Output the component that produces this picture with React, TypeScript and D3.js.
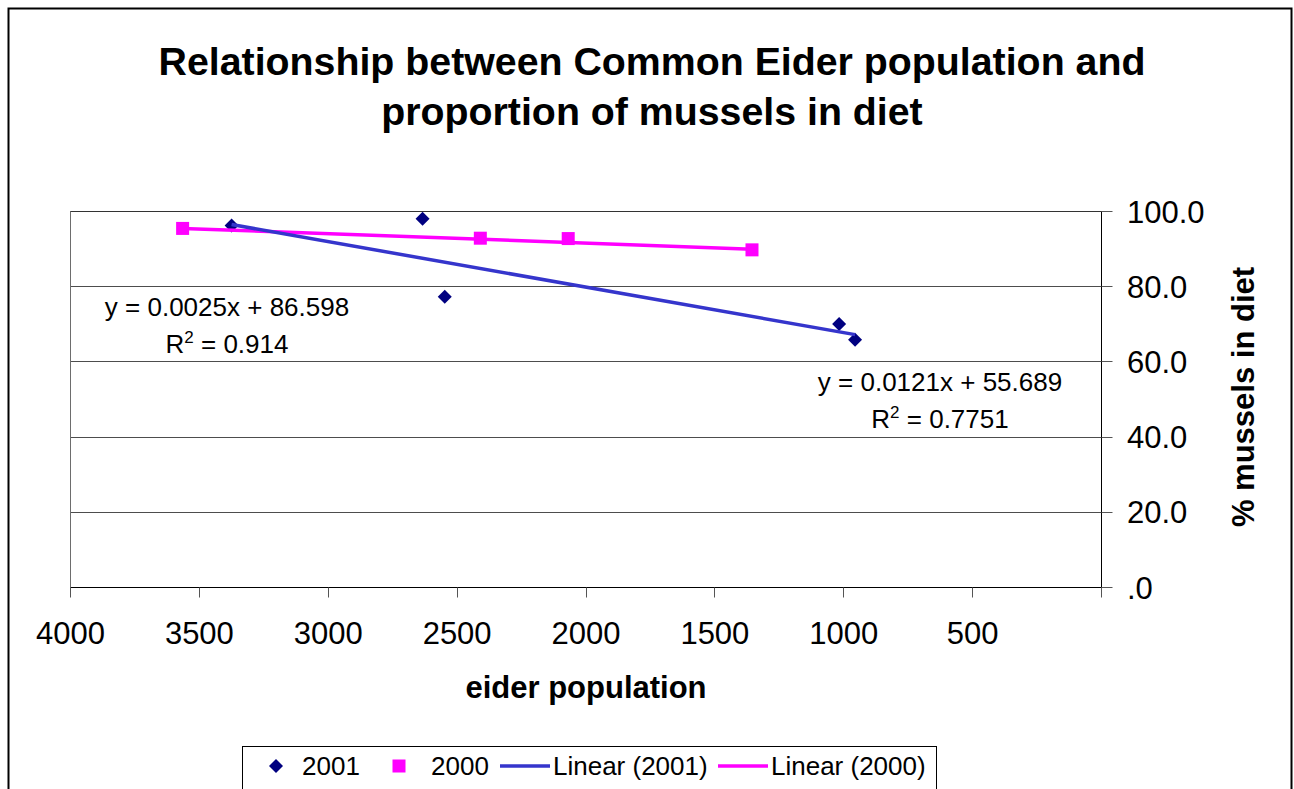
import React, { useEffect, useRef } from 'react';
import * as d3 from 'd3';

// 2001 survey: eider population vs % mussels in diet
const pop2001 = [3375, 2634, 2548, 1018, 956];
const pct2001 = [96.3, 98.1, 77.3, 70.1, 65.9];

// 2000 survey
const pop2000 = [3565, 2410, 2069, 1356];
const pct2000 = [95.5, 92.9, 92.8, 89.8];

// trendline coefficients as printed on the chart: [slope, intercept]
const fit2001 = [0.0121, 55.689];
const fit2000 = [0.0025, 86.598];
const r2_2001 = '0.7751';
const r2_2000 = '0.914';

const xTicks = [4000, 3500, 3000, 2500, 2000, 1500, 1000, 500, 0];
const yTicks = [0, 20, 40, 60, 80, 100];
const legendLabels = ['2001', '2000', 'Linear (2001)', 'Linear (2000)'];

const FONT = '"Liberation Sans", Arial, Helvetica, sans-serif';

const App: React.FC = () => {
    const ref = useRef<SVGSVGElement>(null);

    useEffect(() => {
        const svg = d3.select(ref.current);
        svg.selectAll('*').remove();

        const width = 1294;
        const height = 789;
        const plotLeft = 70.5;
        const plotRight = 1101.5;
        const plotTop = 211.5;
        const plotBottom = 587.5;

        const navy = '#000080';
        const magenta = '#FF00FF';
        const trendBlue = '#3535CC';

        const x = d3.scaleLinear().domain([4000, 0]).range([plotLeft, plotRight]);
        const y = d3.scaleLinear().domain([0, 100]).range([plotBottom, plotTop]);
        const snap = (v: number) => Math.round(v - 0.5) + 0.5;

        svg.attr('viewBox', [0, 0, width, height])
            .style('font-family', FONT);

        // chart area background + outer frame (bottom edge runs off the page)
        svg.append('rect')
            .attr('x', 0).attr('y', 0).attr('width', width).attr('height', height)
            .attr('fill', 'white');
        svg.append('rect')
            .attr('x', 8.5).attr('y', 8.5)
            .attr('width', 1283).attr('height', 820)
            .attr('fill', 'white')
            .attr('stroke', 'black')
            .attr('stroke-width', 2);

        // title
        const title = svg.append('text')
            .attr('text-anchor', 'middle')
            .attr('font-weight', 'bold')
            .attr('font-size', 39.3)
            .attr('fill', 'black');
        title.append('tspan').attr('x', 652).attr('y', 75)
            .text('Relationship between Common Eider population and');
        title.append('tspan').attr('x', 652).attr('y', 125)
            .text('proportion of mussels in diet');

        // gridlines
        svg.append('g')
            .selectAll('line')
            .data(yTicks.filter(d => d > 0))
            .join('line')
            .attr('x1', plotLeft).attr('x2', plotRight)
            .attr('y1', d => snap(y(d))).attr('y2', d => snap(y(d)))
            .attr('stroke', '#4d4d4d')
            .attr('stroke-width', 1);

        // plot left edge
        svg.append('line')
            .attr('x1', plotLeft).attr('x2', plotLeft)
            .attr('y1', plotTop).attr('y2', plotBottom)
            .attr('stroke', '#6d6d6d');

        // x axis (reversed, 4000 -> 0)
        const xAxis = svg.append('g');
        xAxis.append('line')
            .attr('x1', plotLeft).attr('x2', plotRight)
            .attr('y1', plotBottom).attr('y2', plotBottom)
            .attr('stroke', 'black');
        xAxis.selectAll('line.tick')
            .data(xTicks)
            .join('line')
            .attr('class', 'tick')
            .attr('x1', d => snap(x(d))).attr('x2', d => snap(x(d)))
            .attr('y1', plotBottom).attr('y2', plotBottom + 10)
            .attr('stroke', '#555');
        xAxis.selectAll('text')
            .data(xTicks.filter(d => d > 0))
            .join('text')
            .attr('x', d => x(d))
            .attr('y', 644)
            .attr('text-anchor', 'middle')
            .attr('font-size', 31)
            .attr('fill', 'black')
            .text(d => String(d));
        svg.append('text')
            .attr('x', (plotLeft + plotRight) / 2)
            .attr('y', 698)
            .attr('text-anchor', 'middle')
            .attr('font-weight', 'bold')
            .attr('font-size', 31)
            .attr('fill', 'black')
            .text('eider population');

        // y axis on the right
        const yAxis = svg.append('g');
        yAxis.append('line')
            .attr('x1', plotRight).attr('x2', plotRight)
            .attr('y1', plotTop).attr('y2', plotBottom)
            .attr('stroke', 'black');
        yAxis.selectAll('line.tick')
            .data(yTicks)
            .join('line')
            .attr('class', 'tick')
            .attr('x1', plotRight).attr('x2', plotRight + 11)
            .attr('y1', d => snap(y(d))).attr('y2', d => snap(y(d)))
            .attr('stroke', '#555');
        yAxis.selectAll('text')
            .data(yTicks)
            .join('text')
            .attr('x', 1127)
            .attr('y', d => y(d))
            .attr('dy', '0.36em')
            .attr('font-size', 31)
            .attr('fill', 'black')
            .text(d => (d === 0 ? '.0' : d.toFixed(1)));
        svg.append('text')
            .attr('transform', 'translate(1254,397) rotate(-90)')
            .attr('text-anchor', 'middle')
            .attr('font-weight', 'bold')
            .attr('font-size', 31)
            .attr('fill', 'black')
            .text('% mussels in diet');

        // plot top edge
        svg.append('line')
            .attr('x1', plotLeft).attr('x2', plotRight)
            .attr('y1', plotTop).attr('y2', plotTop)
            .attr('stroke', '#333');

        // markers
        const diamond = (r: number) => `M0,${-r}L${r},0L0,${r}L${-r},0Z`;
        svg.append('g')
            .selectAll('path')
            .data(pop2001.map((p, i) => [p, pct2001[i]]))
            .join('path')
            .attr('d', diamond(7))
            .attr('transform', d => `translate(${x(d[0])},${y(d[1])})`)
            .attr('fill', navy);

        svg.append('g')
            .selectAll('rect')
            .data(pop2000.map((p, i) => [p, pct2000[i]]))
            .join('rect')
            .attr('x', d => x(d[0]) - 6.5)
            .attr('y', d => y(d[1]) - 6.5)
            .attr('width', 13).attr('height', 13)
            .attr('fill', magenta);

        // linear trendlines over each series' x range
        const line = d3.line<number[]>().x(d => x(d[0])).y(d => y(d[1]));
        const trend = (pops: number[], fit: number[]) =>
            (d3.extent(pops) as number[]).map(p => [p, fit[0] * p + fit[1]]);

        svg.append('path')
            .attr('d', line(trend(pop2000, fit2000)))
            .attr('fill', 'none')
            .attr('stroke', magenta)
            .attr('stroke-width', 3.5);
        svg.append('path')
            .attr('d', line(trend(pop2001, fit2001)))
            .attr('fill', 'none')
            .attr('stroke', trendBlue)
            .attr('stroke-width', 3.5);

        // trendline equation labels
        const eqLabel = (cx: number, by: number, fit: number[], r2: string) => {
            const g = svg.append('g')
                .attr('font-size', 26)
                .attr('fill', 'black')
                .attr('text-anchor', 'middle');
            g.append('text')
                .attr('x', cx).attr('y', by)
                .text(`y = ${fit[0].toFixed(4)}x + ${fit[1].toFixed(3)}`);
            const t = g.append('text').attr('x', cx).attr('y', by + 37);
            t.append('tspan').text('R');
            t.append('tspan').attr('font-size', 17).attr('dy', -10).text('2');
            t.append('tspan').attr('dy', 10).text(` = ${r2}`);
        };
        eqLabel(227, 316, fit2000, r2_2000);
        eqLabel(940, 391, fit2001, r2_2001);

        // legend
        const legend = svg.append('g');
        legend.append('rect')
            .attr('x', 242.5).attr('y', 746.5)
            .attr('width', 694).attr('height', 70)
            .attr('fill', 'white')
            .attr('stroke', 'black');

        const ly = 766;
        const itemX = [276, 399, 500, 718];
        const textX = [302, 431, 553, 771];
        legendLabels.forEach((label, i) => {
            if (i === 0) {
                legend.append('path')
                    .attr('d', diamond(7))
                    .attr('transform', `translate(${itemX[i]},${ly})`)
                    .attr('fill', navy);
            } else if (i === 1) {
                legend.append('rect')
                    .attr('x', itemX[i] - 6.5).attr('y', ly - 6.5)
                    .attr('width', 13).attr('height', 13)
                    .attr('fill', magenta);
            } else {
                legend.append('line')
                    .attr('x1', itemX[i]).attr('x2', itemX[i] + 50)
                    .attr('y1', ly).attr('y2', ly)
                    .attr('stroke', i === 2 ? trendBlue : magenta)
                    .attr('stroke-width', 3.5);
            }
            legend.append('text')
                .attr('x', textX[i])
                .attr('y', ly)
                .attr('dy', '0.36em')
                .attr('font-size', 26)
                .attr('fill', 'black')
                .text(label);
        });
    }, []);

    return (
        <svg
            ref={ref}
            width={1294}
            height={789}
            style={{ position: 'absolute', left: 0, top: 0, display: 'block' }}
        />
    );
};

export default App;
